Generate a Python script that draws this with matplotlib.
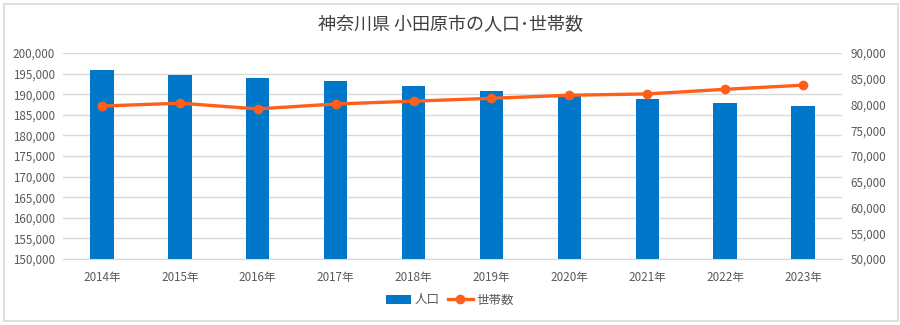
#!/usr/bin/env python3
"""Odawara population / household count combo chart."""
import matplotlib

matplotlib.use("Agg")
import matplotlib.pyplot as plt
from matplotlib.patches import Rectangle
from matplotlib.ticker import FuncFormatter, MultipleLocator

plt.rcParams["font.family"] = ["Noto Sans CJK JP", "DejaVu Sans"]

TITLE = "神奈川県 小田原市の人口･世帯数"
years = ["2014年", "2015年", "2016年", "2017年", "2018年", "2019年", "2020年", "2021年", "2022年", "2023年"]
population = [195900, 194750, 193950, 193200, 192100, 190850, 189450, 188750, 187950, 187150]
households = [79700, 80250, 79150, 80100, 80650, 81200, 81800, 82050, 82950, 83750]

BAR_C = "#0077C8"
LINE_C = "#FF5F1A"
TXT_C = "#595959"
GRID_C = "#D9D9D9"


def _comma(v, _pos):
    return f"{int(v):,}"


def main() -> int:
    fig = plt.figure(figsize=(9.0, 3.25), dpi=100)
    fig.patches.append(Rectangle((4 / 900, 4 / 325), 894 / 900, 317 / 325, transform=fig.transFigure,
                                 fill=False, edgecolor=GRID_C, linewidth=1.2))

    ax = fig.add_axes([63 / 900, 1 - 259 / 325, (842 - 63) / 900, (259 - 53) / 325])
    x = list(range(len(years)))
    ax.bar(x, population, width=0.3, color=BAR_C, label="人口", zorder=2)
    ax.set_ylim(150000, 200000)
    ax.set_xlim(-0.5, len(years) - 0.5)
    ax.yaxis.set_major_locator(MultipleLocator(5000))
    ax.yaxis.set_major_formatter(FuncFormatter(_comma))
    ax.grid(axis="y", color=GRID_C, linewidth=1.0, zorder=0)
    ax.set_axisbelow(True)
    ax.set_xticks(x)
    ax.set_xticklabels(years)

    ax2 = ax.twinx()
    ax2.plot(x, households, color=LINE_C, linewidth=2.4, marker="o", markersize=6, label="世帯数", zorder=3)
    ax2.set_ylim(50000, 90000)
    ax2.yaxis.set_major_locator(MultipleLocator(5000))
    ax2.yaxis.set_major_formatter(FuncFormatter(_comma))

    for a in (ax, ax2):
        for s in a.spines.values():
            s.set_visible(False)
        a.tick_params(length=0, labelsize=8.4, colors=TXT_C)
    ax.spines["bottom"].set_visible(True)
    ax.spines["bottom"].set_color(GRID_C)
    ax.tick_params(axis="x", pad=9)
    ax.tick_params(axis="y", pad=6)
    ax2.tick_params(axis="y", pad=6)

    fig.text(0.5, 1 - 25 / 325, TITLE, ha="center", va="center", fontsize=13, color="#404040")

    h1, l1 = ax.get_legend_handles_labels()
    h2, l2 = ax2.get_legend_handles_labels()
    fig.legend(h1 + h2, l1 + l2, loc="center", bbox_to_anchor=(0.5, 1 - 300 / 325), ncol=2, frameon=False,
               fontsize=9, labelcolor=TXT_C, handlelength=2.0, handletextpad=0.3, columnspacing=0.6)

    fig.savefig("out.png", dpi=100)
    plt.close(fig)
    return 0


if __name__ == "__main__":
    raise SystemExit(main())
